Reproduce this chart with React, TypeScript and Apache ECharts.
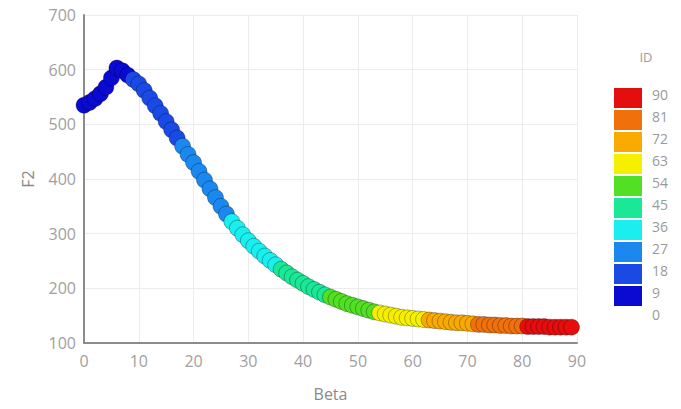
import React, { useEffect, useRef } from "react";
import * as echarts from "echarts";

const beta: number[] = Array.from({ length: 90 }, (_, i) => i);
const f2: number[] = [
  535, 540, 547, 556, 568, 585, 603, 598, 590, 582,
  574, 562, 548, 534, 520, 505, 490, 475, 460, 445,
  430, 414, 398, 382, 366, 350, 336, 322, 310, 298,
  287, 277, 268, 259, 251, 243, 235, 228, 221, 215,
  209, 203, 198, 193, 188, 184, 180, 176, 172, 169,
  166, 163, 160, 157, 155, 153, 151, 149, 147, 146,
  145, 144, 143, 142, 141, 140, 139, 138, 137, 137,
  136, 135, 134, 134, 133, 133, 132, 132, 131, 131,
  131, 130, 130, 130, 130, 129, 129, 129, 129, 129,
];
const ids: number[] = beta.slice();
const bounds: number[] = [0, 9, 18, 27, 36, 45, 54, 63, 72, 81, 90];
const pieceColors: string[] = [
  "#0a0ad2", "#1a4ae6", "#1a88ee", "#1aeeee", "#1ae896",
  "#52e024", "#f6f000", "#f8aa00", "#f0700c", "#e40e0e",
];

export default function App() {
  const ref = useRef<HTMLDivElement>(null);
  useEffect(() => {
    if (!ref.current) return;
    const chart = echarts.init(ref.current, null, { renderer: "svg" });
    const font = "Open Sans";
    const data = beta.map((b, i) => [b, f2[i], ids[i]]);
    const pieces = pieceColors.map((c, i) => ({
      gte: bounds[i],
      lt: i === pieceColors.length - 1 ? bounds[i + 1] + 1 : bounds[i + 1],
      color: c,
    }));
    const boxX = 614, boxY = 88, boxW = 28, boxH = 20, pitch = 22;
    const graphics: any[] = [];
    const n = pieceColors.length;
    for (let k = 0; k < n; k++) {
      const idx = n - 1 - k;
      graphics.push({
        type: "rect",
        shape: { x: boxX, y: boxY + k * pitch, width: boxW, height: boxH },
        style: { fill: pieceColors[idx] },
      });
    }
    for (let k = 0; k < bounds.length; k++) {
      const v = bounds[bounds.length - 1 - k];
      graphics.push({
        type: "text",
        x: 652,
        y: boxY + 6 + k * pitch,
        style: {
          text: String(v),
          fill: "#9a9a9a",
          font: `14px "${font}"`,
          verticalAlign: "middle",
          textAlign: "left",
        },
      });
    }
    graphics.push({
      type: "text",
      x: 646,
      y: 57,
      style: {
        text: "ID",
        fill: "#9a9a9a",
        font: `13px "${font}"`,
        verticalAlign: "middle",
        textAlign: "center",
      },
    });
    chart.setOption({
      animation: false,
      grid: { left: 84, right: 104, top: 15, bottom: 66 },
      xAxis: {
        type: "value",
        min: 0,
        max: 90,
        interval: 10,
        name: "Beta",
        nameLocation: "middle",
        nameGap: 43,
        nameTextStyle: { color: "#8a8a8a", fontSize: 16, fontFamily: font },
        axisLine: { lineStyle: { color: "#8c8c8c", width: 2 } },
        axisTick: { show: false },
        axisLabel: { color: "#a0a0a0", fontSize: 16, fontFamily: font, margin: 10 },
        splitLine: { lineStyle: { color: "#ececec" } },
      },
      yAxis: {
        type: "value",
        min: 100,
        max: 700,
        interval: 100,
        name: "F2",
        nameLocation: "middle",
        nameGap: 48,
        nameTextStyle: { color: "#8a8a8a", fontSize: 16, fontFamily: font },
        axisLine: { show: true, lineStyle: { color: "#8c8c8c", width: 2 } },
        axisTick: { show: false },
        axisLabel: { color: "#a0a0a0", fontSize: 16, fontFamily: font, margin: 8 },
        splitLine: { lineStyle: { color: "#ececec" } },
      },
      visualMap: {
        type: "piecewise",
        show: false,
        dimension: 2,
        pieces,
      },
      series: [
        {
          type: "scatter",
          data,
          symbolSize: 16,
          itemStyle: { borderColor: "rgba(0,0,0,0.3)", borderWidth: 1, opacity: 1 },
        },
      ],
      graphic: graphics,
    });
    return () => chart.dispose();
  }, []);
  return <div ref={ref} style={{ width: 681, height: 409, margin: -8 }} />;
}
